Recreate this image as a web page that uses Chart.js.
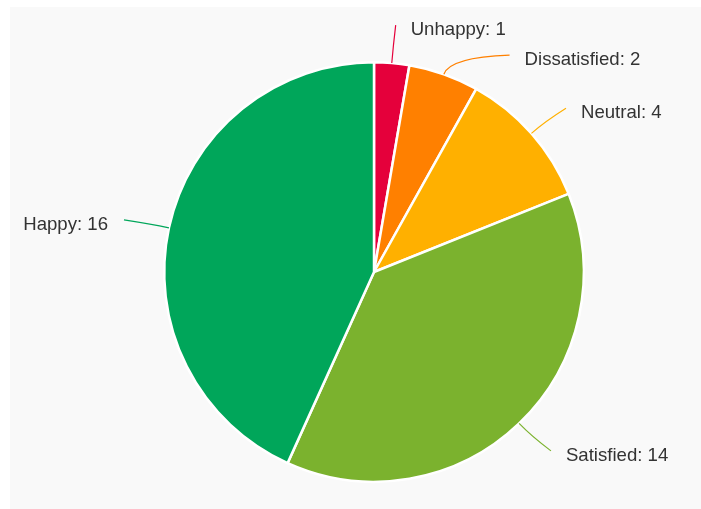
<!DOCTYPE html>
<html>
<head>
<meta charset="utf-8">
<script src="https://cdn.jsdelivr.net/npm/chart.js@4"></script>
<style>
  body { margin: 0; background: #fff; }
  #wrap { position: absolute; left: 10px; top: 7px; width: 691px; height: 502px; background: #f9f9f9; }
</style>
</head>
<body>
<div id="wrap"><canvas id="pieChart"></canvas></div>
<script>
// Satisfaction counts
const categories = ['Unhappy', 'Dissatisfied', 'Neutral', 'Satisfied', 'Happy'];
const counts = [1, 2, 4, 14, 16];
const colours = ['#e5003b', '#ff8000', '#ffb000', '#7bb22e', '#00a65a'];

// Draw "Name: value" labels with curved connectors outside each slice
const sliceLabels = {
  id: 'sliceLabels',
  afterDatasetsDraw(chart) {
    const ctx = chart.ctx;
    const arcs = chart.getDatasetMeta(0).data;
    const cx = arcs[0].x, cy = arcs[0].y, r = arcs[0].outerRadius;
    const R = r + 46;

    const items = arcs.map((arc, i) => {
      const mid = (arc.startAngle + arc.endAngle) / 2;
      const dx = Math.cos(mid), dy = Math.sin(mid);
      return {
        i, dx, dy,
        ex: cx + r * dx, ey: cy + r * dy,
        y: cy + (r + 38) * dy,
        x: cx + R * dx,
        right: dx >= 0
      };
    });

    // push labels down when they would overlap on the same side,
    // shifted ones slide along a circle round the pie
    [true, false].forEach(side => {
      const list = items.filter(it => it.right === side).sort((a, b) => a.y - b.y);
      for (let k = 1; k < list.length; k++) {
        const minY = list[k - 1].y + 30;
        if (list[k].y < minY) {
          list[k].y = minY;
          const off = minY - cy;
          const w = R * R > off * off ? Math.sqrt(R * R - off * off) : 0;
          list[k].x = side ? cx + w : cx - w;
        }
      }
    });

    ctx.save();
    ctx.font = '18.6px "Liberation Sans", Arial, sans-serif';
    ctx.textBaseline = 'middle';
    items.forEach(it => {
      const cpx = cx + (r + 18) * it.dx;
      const cpy = cy + (r + 18) * it.dy;
      ctx.strokeStyle = colours[it.i];
      ctx.lineWidth = 1.2;
      ctx.beginPath();
      ctx.moveTo(it.ex, it.ey);
      ctx.quadraticCurveTo(cpx, cpy, it.x, it.y);
      ctx.stroke();

      ctx.fillStyle = '#333333';
      ctx.textAlign = it.right ? 'left' : 'right';
      ctx.fillText(categories[it.i] + ': ' + counts[it.i], it.right ? it.x + 15 : it.x - 16, it.y + 5);
    });
    ctx.restore();
  }
};

const pieCtx = document.getElementById('pieChart').getContext('2d');
new Chart(pieCtx, {
  type: 'pie',
  data: {
    labels: categories,
    datasets: [{
      data: counts,
      backgroundColor: colours,
      borderColor: '#ffffff',
      borderWidth: 2.5
    }]
  },
  options: {
    responsive: true,
    maintainAspectRatio: false,
    animation: false,
    layout: { padding: { left: 114, right: 77, top: 54, bottom: 26 } },
    plugins: {
      legend: { display: false },
      tooltip: { enabled: false }
    }
  },
  plugins: [sliceLabels]
});
</script>
</body>
</html>
